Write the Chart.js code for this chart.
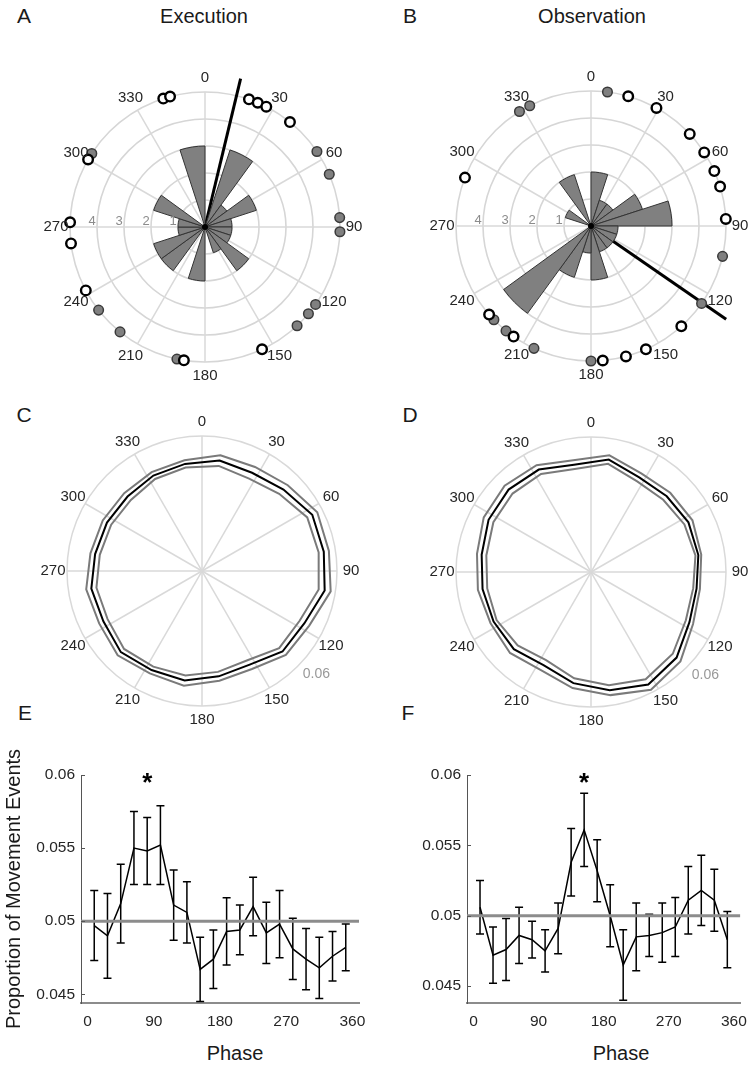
<!DOCTYPE html>
<html>
<head>
<meta charset="utf-8">
<script src="https://cdn.jsdelivr.net/npm/chart.js@4.4.0/dist/chart.umd.min.js"></script>
<style>
  body { margin: 0; width: 756px; height: 1070px; overflow: hidden; background: #fff; position: relative;
         font-family: "Liberation Sans", Arial, sans-serif; color: #1a1a1a; }
  canvas { position: absolute; }
  .txt { position: absolute; transform: translate(-50%, -50%); white-space: nowrap; }
  .letter { font-size: 21px; }
  .title { font-size: 20px; }
</style>
</head>
<body>
<div class="txt letter" style="left:24px;top:16px">A</div>
<div class="txt letter" style="left:410px;top:16px">B</div>
<div class="txt letter" style="left:24px;top:415px">C</div>
<div class="txt letter" style="left:410px;top:415px">D</div>
<div class="txt letter" style="left:25px;top:713px">E</div>
<div class="txt letter" style="left:408px;top:713px">F</div>
<div class="txt title" style="left:204px;top:16px">Execution</div>
<div class="txt title" style="left:592px;top:16px">Observation</div>
<div class="txt title" style="left:235px;top:1053px">Phase</div>
<div class="txt title" style="left:621px;top:1053px">Phase</div>

<canvas id="roseA" width="380" height="360" style="left:15px;top:47px"></canvas>
<canvas id="roseB" width="380" height="360" style="left:401px;top:46px"></canvas>
<canvas id="polarC" width="380" height="360" style="left:12px;top:391px"></canvas>
<canvas id="polarD" width="380" height="360" style="left:401px;top:392px"></canvas>
<canvas id="lineE" width="378" height="380" style="left:0px;top:690px"></canvas>
<canvas id="lineF" width="378" height="380" style="left:378px;top:690px"></canvas>

<script>
// --- data ---
// rose histograms, 18 degree bins starting at 0
const binStarts = [0, 18, 36, 54, 72, 90, 108, 126, 144, 162, 180, 198, 216, 234, 252, 270, 288, 306, 324, 342];
const execCounts = [0, 3, 1, 2, 1, 1, 1, 2, 1, 0, 2, 0, 2, 2, 1, 1, 2, 0, 0, 3];
const obsCounts = [2, 1, 1, 2, 3, 1, 1, 1, 1, 2, 1, 2, 4, 0, 0, 0, 1, 0, 2, 0];

// preferred phases of single participants (degrees), open and filled markers
const execOpen = [342, 345, 19, 23, 27, 39, 155, 189, 242, 263, 272, 300];
const execFilled = [56, 67, 86, 92, 125, 130, 137, 192, 219, 232, 303];
const obsOpen = [16, 29, 47, 57, 66, 73, 87, 138, 156, 165, 175, 215, 229, 291];
const obsFilled = [7, 103, 125, 180, 205, 219, 226, 328, 333];

// mean vectors: direction (deg) and length (in count units)
const execMeanDir = 13.5, execMeanLen = 5.65;
const obsMeanDir = 124.6, obsMeanLen = 6.08;

// proportion of movement events per phase bin
const phaseBins = [9, 27, 45, 63, 81, 99, 117, 135, 153, 171, 189, 207, 225, 243, 261, 279, 297, 315, 333, 351];
const execMean = [0.0497, 0.0490, 0.0512, 0.0550, 0.0548, 0.0552, 0.0511, 0.0506, 0.0467, 0.0474,
                  0.0493, 0.0494, 0.0510, 0.0492, 0.0498, 0.0481, 0.0474, 0.0468, 0.0476, 0.0482];
const execSE = [0.0024, 0.0029, 0.0027, 0.0025, 0.0023, 0.0027, 0.0024, 0.0021, 0.0022, 0.0020,
                0.0023, 0.0017, 0.0020, 0.0021, 0.0023, 0.0021, 0.0021, 0.0021, 0.0017, 0.0016];
const obsMean = [0.0506, 0.0472, 0.0476, 0.0486, 0.0483, 0.0475, 0.0491, 0.0538, 0.0561, 0.0532,
                 0.0500, 0.0465, 0.0485, 0.0486, 0.0488, 0.0492, 0.0511, 0.0518, 0.0511, 0.0483];
const obsSE = [0.0019, 0.0020, 0.0022, 0.0020, 0.0013, 0.0015, 0.0018, 0.0024, 0.0026, 0.0022,
               0.0022, 0.0025, 0.0024, 0.0015, 0.0021, 0.0021, 0.0024, 0.0025, 0.0022, 0.0020];
const chanceLevel = 0.05;
const execSig = [81], obsSig = [153];

const spokeAngles = [0, 30, 60, 90, 120, 150, 180, 210, 240, 270, 300, 330];
const ringTicks = [1, 2, 3, 4];
const phaseTicks = [0, 90, 180, 270, 360];
const propTicks = [0.045, 0.05, 0.055, 0.06];

const FONT = '"Liberation Sans", Arial, sans-serif';
Chart.defaults.font.family = FONT;
Chart.defaults.color = '#262626';

// polar helpers: angle clockwise from top
function polarXY(s, angle, value) {
  const r = s.getDistanceFromCenterForValue(value);
  const t = angle * Math.PI / 180;
  return [s.xCenter + r * Math.sin(t), s.yCenter - r * Math.cos(t)];
}

function drawSpokes(chart) {
  const s = chart.scales.r, ctx = chart.ctx;
  ctx.save();
  ctx.strokeStyle = '#d9d9d9';
  ctx.lineWidth = 1.5;
  spokeAngles.forEach(a => {
    const [x, y] = polarXY(s, a, s.max);
    ctx.beginPath();
    ctx.moveTo(s.xCenter, s.yCenter);
    ctx.lineTo(x, y);
    ctx.stroke();
  });
  ctx.restore();
}

function drawAngleLabels(chart) {
  const s = chart.scales.r, ctx = chart.ctx;
  ctx.save();
  ctx.font = '15px ' + FONT;
  ctx.fillStyle = '#262626';
  ctx.textAlign = 'center';
  ctx.textBaseline = 'middle';
  spokeAngles.forEach(a => {
    const r = s.drawingArea + 14;
    const t = a * Math.PI / 180;
    ctx.fillText(String(a), s.xCenter + r * Math.sin(t), s.yCenter - r * Math.cos(t));
  });
  ctx.restore();
}

function drawMarker(ctx, x, y, filled) {
  ctx.beginPath();
  ctx.arc(x, y, 4.8, 0, Math.PI * 2);
  if (filled) {
    ctx.fillStyle = '#808080';
    ctx.fill();
    ctx.lineWidth = 1.5;
    ctx.strokeStyle = '#3a3a3a';
  } else {
    ctx.fillStyle = '#ffffff';
    ctx.fill();
    ctx.lineWidth = 2.4;
    ctx.strokeStyle = '#000000';
  }
  ctx.stroke();
}

function roseChart(id, counts, openPts, filledPts, meanDir, meanLen) {
  new Chart(document.getElementById(id), {
    type: 'polarArea',
    data: {
      labels: binStarts.map(b => b + '-' + (b + 18)),
      datasets: [{ data: counts, backgroundColor: '#808080', borderColor: '#333333', borderWidth: 1 }]
    },
    options: {
      responsive: false,
      animation: false,
      events: [],
      layout: { padding: { left: 55, right: 55, top: 45, bottom: 45 } },
      plugins: { legend: { display: false }, tooltip: { enabled: false } },
      scales: {
        r: {
          min: 0, max: 5,
          ticks: { display: false, stepSize: 1 },
          grid: { color: '#d6d6d6', lineWidth: 1.6 },
          angleLines: { display: false },
          pointLabels: { display: false }
        }
      }
    },
    plugins: [{
      id: 'roseDecor',
      beforeDatasetsDraw(chart) {
        drawSpokes(chart);
        const s = chart.scales.r, ctx = chart.ctx;
        const [x, y] = polarXY(s, meanDir, meanLen);
        ctx.save();
        ctx.strokeStyle = '#000';
        ctx.lineWidth = 3;
        ctx.beginPath();
        ctx.moveTo(s.xCenter, s.yCenter);
        ctx.lineTo(x, y);
        ctx.stroke();
        ctx.restore();
      },
      afterDatasetsDraw(chart) {
        const s = chart.scales.r, ctx = chart.ctx;
        ctx.save();
        // ring labels along the 270 spoke
        ctx.font = '13px ' + FONT;
        ctx.fillStyle = '#8c8c8c';
        ctx.textAlign = 'center';
        ctx.textBaseline = 'middle';
        ringTicks.forEach(k => {
          const r = s.getDistanceFromCenterForValue(k) + 5;
          ctx.fillText(String(k), s.xCenter - r, s.yCenter - 6);
        });
        // centre dot
        ctx.fillStyle = '#000';
        ctx.beginPath();
        ctx.arc(s.xCenter, s.yCenter, 3, 0, Math.PI * 2);
        ctx.fill();
        // individual preferred phases on the outer ring
        filledPts.forEach(a => { const [x, y] = polarXY(s, a, s.max); drawMarker(ctx, x, y, true); });
        openPts.forEach(a => { const [x, y] = polarXY(s, a, s.max); drawMarker(ctx, x, y, false); });
        ctx.restore();
        drawAngleLabels(chart);
      }
    }]
  });
}

function phaseRadar(id, mean, se) {
  const upper = mean.map((m, i) => m + se[i]);
  const lower = mean.map((m, i) => m - se[i]);
  const line = (data, color) => ({ data, borderColor: color, borderWidth: 2, pointRadius: 0, fill: false });
  new Chart(document.getElementById(id), {
    type: 'radar',
    data: {
      labels: phaseBins.map(String),
      datasets: [line(mean, '#000000'), line(upper, '#7a7a7a'), line(lower, '#7a7a7a')]
    },
    options: {
      responsive: false,
      animation: false,
      events: [],
      layout: { padding: { left: 55, right: 55, top: 45, bottom: 45 } },
      plugins: { legend: { display: false }, tooltip: { enabled: false } },
      scales: {
        r: {
          min: 0, max: 0.06,
          startAngle: 9,
          ticks: { display: false, stepSize: 0.06 },
          grid: { color: '#d9d9d9', lineWidth: 1.5, circular: true },
          angleLines: { display: false },
          pointLabels: { display: false }
        }
      }
    },
    plugins: [{
      id: 'radarDecor',
      beforeDatasetsDraw(chart) { drawSpokes(chart); },
      afterDatasetsDraw(chart) {
        drawAngleLabels(chart);
        const s = chart.scales.r, ctx = chart.ctx;
        const r = s.drawingArea + 19;
        const t = 132 * Math.PI / 180;
        ctx.save();
        ctx.font = '14px ' + FONT;
        ctx.fillStyle = '#999999';
        ctx.textAlign = 'center';
        ctx.textBaseline = 'middle';
        ctx.fillText(String(s.max), s.xCenter + r * Math.sin(t), s.yCenter - r * Math.cos(t));
        ctx.restore();
      }
    }]
  });
}

function phaseLine(id, mean, se, yMin, sig, yWidth, padRight, yTitle) {
  const xMin = -9, xMax = 369;
  new Chart(document.getElementById(id), {
    type: 'line',
    data: {
      datasets: [
        { data: [{ x: xMin, y: chanceLevel }, { x: xMax, y: chanceLevel }], borderColor: '#8c8c8c', borderWidth: 3, pointRadius: 0 },
        { data: phaseBins.map((p, i) => ({ x: p, y: mean[i] })), borderColor: '#000', borderWidth: 1.5, pointRadius: 0 }
      ]
    },
    options: {
      responsive: false,
      animation: false,
      events: [],
      layout: { padding: { left: 0, right: padRight, top: 85, bottom: 0 } },
      plugins: { legend: { display: false }, tooltip: { enabled: false } },
      scales: {
        x: {
          type: 'linear', min: xMin, max: xMax,
          afterBuildTicks: sc => { sc.ticks = phaseTicks.map(v => ({ value: v })); },
          afterFit: sc => { sc.height = 67; },
          ticks: { font: { size: 15.5 }, color: '#262626', padding: 9, maxRotation: 0 },
          grid: { display: false, drawTicks: false },
          border: { display: true, color: '#8c8c8c', width: 2 }
        },
        y: {
          min: yMin, max: 0.06,
          afterBuildTicks: sc => { sc.ticks = propTicks.map(v => ({ value: v })); },
          afterFit: sc => { sc.width = yWidth; },
          ticks: { font: { size: 15.5 }, color: '#262626', padding: 6, callback: v => String(v) },
          grid: { display: false, drawTicks: false },
          border: { display: true, color: '#555555', width: 1 },
          title: { display: !!yTitle, text: yTitle || '', font: { size: 20 }, color: '#1a1a1a', padding: { top: 2, bottom: 0 } }
        }
      }
    },
    plugins: [{
      id: 'errorBars',
      beforeDatasetsDraw(chart) {
        const { ctx, chartArea: ca } = chart;
        const xs = chart.scales.x, ys = chart.scales.y;
        ctx.save();
        ctx.beginPath();
        ctx.rect(ca.left, ca.top, ca.right - ca.left, ca.bottom - ca.top);
        ctx.clip();
        ctx.strokeStyle = '#000';
        ctx.lineWidth = 1.5;
        phaseBins.forEach((p, i) => {
          const x = xs.getPixelForValue(p);
          const yt = ys.getPixelForValue(mean[i] + se[i]);
          const yb = ys.getPixelForValue(mean[i] - se[i]);
          ctx.beginPath();
          ctx.moveTo(x, yt); ctx.lineTo(x, yb);
          ctx.moveTo(x - 4, yt); ctx.lineTo(x + 4, yt);
          ctx.moveTo(x - 4, yb); ctx.lineTo(x + 4, yb);
          ctx.stroke();
        });
        ctx.restore();
      },
      afterDatasetsDraw(chart) {
        const { ctx, chartArea: ca } = chart;
        const xs = chart.scales.x, ys = chart.scales.y;
        ctx.save();
        // inward tick marks on the y axis
        ctx.strokeStyle = '#555555';
        ctx.lineWidth = 1;
        propTicks.forEach(v => {
          const y = Math.round(ys.getPixelForValue(v)) + 0.5;
          ctx.beginPath();
          ctx.moveTo(ca.left, y); ctx.lineTo(ca.left + 4, y);
          ctx.stroke();
        });
        // significance asterisk
        ctx.fillStyle = '#000';
        ctx.font = 'bold 26px ' + FONT;
        ctx.textAlign = 'center';
        ctx.textBaseline = 'middle';
        sig.forEach(p => {
          ctx.fillText('*', xs.getPixelForValue(p), ys.getPixelForValue(0.06) + 9);
        });
        ctx.restore();
      }
    }]
  });
}

roseChart('roseA', execCounts, execOpen, execFilled, execMeanDir, execMeanLen);
roseChart('roseB', obsCounts, obsOpen, obsFilled, obsMeanDir, obsMeanLen);
phaseRadar('polarC', execMean, execSE);
phaseRadar('polarD', obsMean, obsSE);
phaseLine('lineE', execMean, execSE, 0.0444, execSig, 81, 19, 'Proportion of Movement Events');
phaseLine('lineF', obsMean, obsSE, 0.0438, obsSig, 89, 10, '');
</script>
</body>
</html>
